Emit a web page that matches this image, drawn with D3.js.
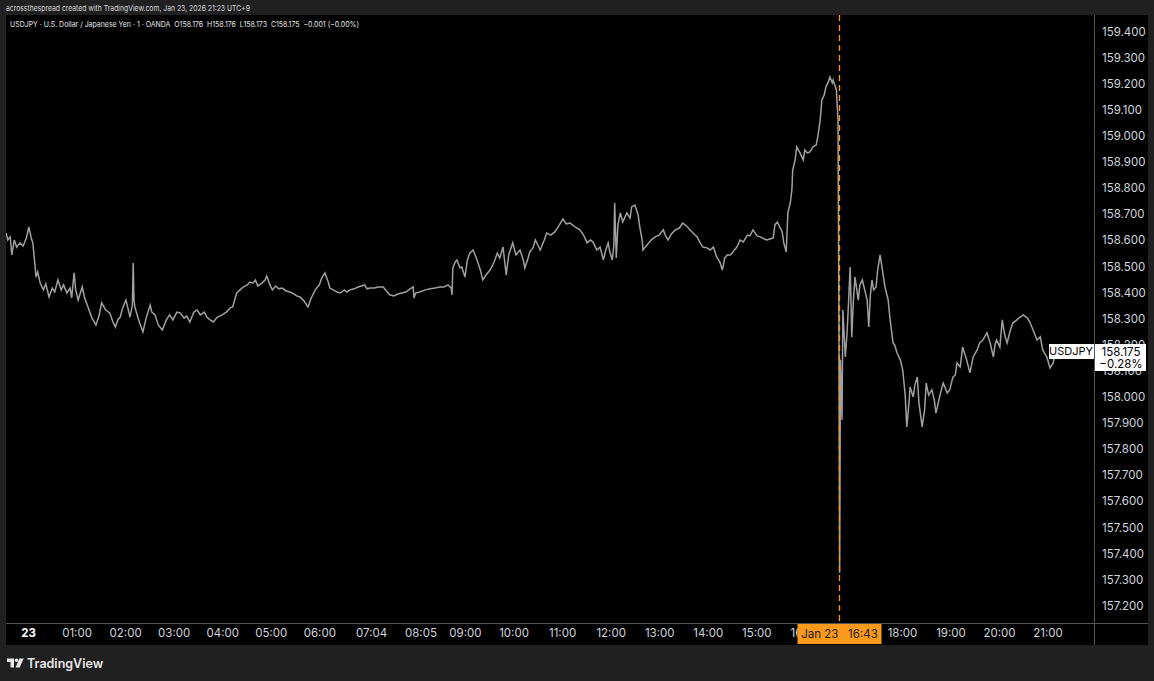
<!DOCTYPE html>
<html>
<head>
<meta charset="utf-8">
<script src="https://cdn.jsdelivr.net/npm/d3@7"></script>
<style>
  html, body { margin: 0; padding: 0; background: #202020; }
  svg { display: block; }
  .tick text { font-family: Inter, "Liberation Sans", sans-serif; }
</style>
</head>
<body>
<div id="chart"></div>
<script>
// USDJPY 1-min, Jan 23 2026 (minutes from 00:00, price)
var minutes = [
  -27,-25,-22,-20,-17,-14,-10,-6,-2,1,
  4,6,10,12,15,19,22,26,30,33,
  37,41,44,48,52,54,57,59,62,67,
  70,74,79,84,88,91,96,101,105,108,
  111,114,117,121,124,126,129,130,131,132,
  136,138,142,146,151,153,157,161,166,171,
  175,179,184,188,193,196,200,205,209,213,
  218,221,225,229,234,240,245,250,253,256,
  258,262,266,271,274,278,281,284,289,293,
  295,299,302,306,310,314,319,324,329,332,
  336,341,346,350,355,360,363,367,371,373,
  377,382,386,391,394,398,403,408,412,416,
  419,423,428,433,439,444,447,452,457,462,
  467,472,476,477,479,484,491,497,503,509,
  514,519,523,524,525,528,530,534,536,540,
  543,546,550,554,559,562,566,571,576,580,
  583,587,591,594,599,603,608,612,614,618,
  620,624,627,630,633,638,641,646,651,656,
  661,665,670,676,682,687,691,695,698,703,
  707,711,714,717,719,722,724,725,727,729,
  732,735,740,744,746,750,754,756,759,760,
  762,765,770,775,780,785,788,791,795,800,
  805,809,814,818,823,827,830,834,839,843,
  847,849,851,855,858,861,864,868,871,876,
  880,884,889,892,896,901,905,910,913,917,
  921,923,926,929,932,934,937,939,942,944,
  945,948,950,954,958,960,963,966,970,974,
  976,979,981,984,986,989,991,994,995,999,
  1001,1002,1003,1004,1006,1007,1010,1012,1013,1016,
  1018,1020,1022,1026,1028,1031,1034,1037,1039,1041,
  1043,1045,1048,1050,1053,1055,1059,1063,1065,1069,
  1071,1074,1078,1081,1084,1086,1089,1090,1094,1096,
  1099,1101,1105,1108,1110,1113,1117,1120,1122,1127,
  1131,1136,1139,1143,1146,1148,1152,1155,1158,1160,
  1164,1168,1173,1176,1180,1185,1189,1193,1195,1197,
  1201,1204,1207,1210,1214,1217,1222,1226,1230,1235,
  1238,1242,1247,1251,1254,1259,1263,1267,1269
];
var prices = [
  158.628,158.601,158.613,158.544,158.601,158.574,158.590,158.578,158.609,158.651,
  158.609,158.590,158.459,158.479,158.436,158.410,158.433,158.383,158.417,158.402,
  158.448,158.410,158.429,158.398,158.417,158.379,158.475,158.410,158.371,158.421,
  158.379,158.345,158.302,158.276,158.314,158.360,158.333,158.322,158.287,158.268,
  158.295,158.306,158.341,158.371,158.333,158.306,158.352,158.513,158.371,158.345,
  158.302,158.283,158.249,158.302,158.352,158.325,158.314,158.276,158.256,158.295,
  158.314,158.295,158.325,158.322,158.302,158.310,158.287,158.325,158.333,158.314,
  158.325,158.306,158.295,158.287,158.306,158.314,158.325,158.341,158.345,158.379,
  158.398,158.410,158.421,158.429,158.440,158.436,158.448,158.425,158.436,158.448,
  158.463,158.429,158.410,158.425,158.414,158.417,158.406,158.402,158.394,158.387,
  158.383,158.368,158.345,158.379,158.410,158.429,158.456,158.475,158.440,158.417,
  158.410,158.402,158.398,158.410,158.402,158.410,158.414,158.421,158.425,158.429,
  158.414,158.417,158.417,158.421,158.421,158.402,158.391,158.387,158.394,158.398,
  158.402,158.414,158.421,158.379,158.398,158.402,158.410,158.414,158.417,158.421,
  158.421,158.429,158.417,158.391,158.494,158.517,158.525,158.494,158.498,158.459,
  158.525,158.551,158.563,158.532,158.486,158.448,158.467,158.486,158.517,158.551,
  158.532,158.574,158.467,158.544,158.590,158.544,158.563,158.525,158.494,158.532,
  158.555,158.571,158.601,158.582,158.563,158.601,158.628,158.620,158.632,158.655,
  158.682,158.663,158.666,158.651,158.640,158.617,158.590,158.601,158.594,158.563,
  158.574,158.525,158.563,158.590,158.555,158.525,158.582,158.743,158.532,158.659,
  158.705,158.670,158.705,158.685,158.728,158.735,158.697,158.651,158.601,158.563,
  158.571,158.582,158.601,158.613,158.620,158.640,158.617,158.601,158.624,158.640,
  158.647,158.666,158.655,158.640,158.624,158.613,158.594,158.574,158.571,158.563,
  158.574,158.555,158.536,158.517,158.486,158.532,158.544,158.544,158.555,158.574,
  158.601,158.594,158.620,158.617,158.640,158.617,158.613,158.605,158.601,158.605,
  158.609,158.659,158.670,158.651,158.632,158.590,158.555,158.705,158.743,158.793,
  158.869,158.908,158.958,158.935,158.908,158.946,158.935,158.938,158.958,158.965,
  158.996,159.061,159.138,159.157,159.187,159.207,159.226,159.203,159.214,159.176,
  159.061,158.371,157.326,158.142,157.912,158.333,158.153,158.237,158.295,158.498,
  158.230,158.371,158.459,158.371,158.429,158.448,158.410,158.371,158.268,158.391,
  158.448,158.410,158.421,158.486,158.544,158.505,158.421,158.371,158.306,158.207,
  158.199,158.168,158.142,158.103,158.007,157.885,157.988,158.038,158.000,158.046,
  158.076,157.977,157.885,157.950,158.053,158.007,158.027,157.988,157.938,158.007,
  158.053,158.015,158.027,158.076,158.084,158.130,158.115,158.191,158.161,158.142,
  158.092,158.153,158.180,158.207,158.218,158.245,158.207,158.153,158.199,158.218,
  158.191,158.295,158.237,158.207,158.256,158.283,158.295,158.306,158.314,158.302,
  158.287,158.256,158.218,158.230,158.180,158.153,158.111,158.130,158.175
];
// 17:00 sits fully under the crosshair label in the original, so it is left out
var timeTicks = [0,60,120,180,240,300,360,424,485,540,600,660,720,780,840,900,960,1080,1140,1200,1260];
var timeLabels = ["23","01:00","02:00","03:00","04:00","05:00","06:00","07:04","08:05","09:00","10:00",
  "11:00","12:00","13:00","14:00","15:00","16:00","18:00","19:00","20:00","21:00"];
var priceTicks = [157.2,157.3,157.4,157.5,157.6,157.7,157.8,157.9,158.0,158.1,158.2,158.3,
  158.4,158.5,158.6,158.7,158.8,158.9,159.0,159.1,159.2,159.3,159.4];
var cursorMinute = 1003;   // 16:43
var lastPrice = 158.175;
var lastChange = "\u22120.28%";

(function() {
  var W = 1154, H = 681;
  var plot = { left: 6, right: 1094, top: 15, bottom: 623 };
  var axisRight = 1148, axisBottom = 645;
  var font = 'Inter, "Liberation Sans", sans-serif';
  var orange = "#fb9a1a";

  var svg = d3.select("#chart").append("svg")
    .attr("width", W)
    .attr("height", H);

  svg.append("rect").attr("width", W).attr("height", H).attr("fill", "#202020");
  svg.append("rect")
    .attr("x", plot.left).attr("y", plot.top)
    .attr("width", axisRight - plot.left).attr("height", axisBottom - plot.top)
    .attr("fill", "#000");

  var x = d3.scaleLinear().domain([0, 1260]).range([28, 1047.6]);
  var y = d3.scaleLinear().domain([157.2, 159.4]).range([605.7, 31.5]);

  var defs = svg.append("defs");
  defs.append("clipPath").attr("id", "plotclip")
    .append("rect")
    .attr("x", plot.left).attr("y", plot.top)
    .attr("width", plot.right - plot.left).attr("height", plot.bottom - plot.top);

  // price line
  var data = minutes.map(function(m, i) { return [m, prices[i]]; });
  var line = d3.line()
    .x(function(d) { return x(d[0]); })
    .y(function(d) { return y(d[1]); });
  svg.append("path")
    .datum(data)
    .attr("clip-path", "url(#plotclip)")
    .attr("d", line)
    .attr("fill", "none")
    .attr("stroke", "#a0a0a0")
    .attr("stroke-width", 1.5)
    .attr("stroke-linejoin", "miter");

  // separators
  svg.append("line")
    .attr("x1", plot.right + 0.5).attr("x2", plot.right + 0.5)
    .attr("y1", plot.top).attr("y2", axisBottom)
    .attr("stroke", "#555").attr("stroke-width", 1);
  svg.append("line")
    .attr("x1", plot.left).attr("x2", axisRight)
    .attr("y1", plot.bottom + 0.5).attr("y2", plot.bottom + 0.5)
    .attr("stroke", "#555").attr("stroke-width", 1);

  // price axis
  var yAxis = d3.axisRight(y)
    .tickValues(priceTicks)
    .tickFormat(d3.format(".3f"))
    .tickSize(0)
    .tickPadding(8);
  var gy = svg.append("g")
    .attr("transform", "translate(" + plot.right + ",0)")
    .call(yAxis);
  gy.select(".domain").remove();
  gy.selectAll("text")
    .attr("fill", "#d1d4dc")
    .style("font-size", "11.5px");

  // time axis
  var cx = Math.round(x(cursorMinute)) - 0.5;
  var boxLeft = cx - 42;
  // clip in the tick's own (translated) space so only the "1" of 16:00 shows
  defs.append("clipPath").attr("id", "timeclip")
    .append("rect")
    .attr("x", -60).attr("y", -5)
    .attr("width", boxLeft - x(960) + 60).attr("height", 30);
  var xAxis = d3.axisBottom(x)
    .tickValues(timeTicks)
    .tickFormat(function(d, i) { return timeLabels[i]; })
    .tickSize(0)
    .tickPadding(6);
  var gx = svg.append("g")
    .attr("transform", "translate(0," + plot.bottom + ")")
    .call(xAxis);
  gx.select(".domain").remove();
  gx.selectAll("text")
    .style("font-size", "11.5px")
    .style("font-weight", function(d, i) { return i === 0 ? "bold" : null; })
    .attr("fill", function(d, i) { return i === 0 ? "#fff" : "#d1d4dc"; });
  gx.selectAll(".tick")
    .filter(function(d) { return d === 960; })
    .select("text")
    .attr("clip-path", "url(#timeclip)");

  // crosshair
  svg.append("line")
    .attr("x1", cx).attr("x2", cx)
    .attr("y1", plot.top).attr("y2", plot.bottom)
    .attr("stroke", orange)
    .attr("stroke-width", 1.3)
    .attr("stroke-dasharray", "6,4");
  svg.append("rect")
    .attr("x", boxLeft).attr("y", plot.bottom + 1)
    .attr("width", 84).attr("height", 20)
    .attr("fill", orange);
  svg.append("text")
    .attr("x", cx).attr("y", plot.bottom + 15)
    .attr("text-anchor", "middle")
    .attr("fill", "#1a1a1a")
    .style("font-family", font)
    .style("font-size", "11.5px")
    .attr("xml:space", "preserve")
    .text("Jan 23   16:43");

  // last price labels
  var ly = Math.round(y(lastPrice));
  svg.append("rect")
    .attr("x", 1049).attr("y", ly - 7)
    .attr("width", plot.right - 1049).attr("height", 15)
    .attr("fill", "#fff");
  svg.append("text")
    .attr("x", 1071).attr("y", ly + 4)
    .attr("text-anchor", "middle")
    .attr("fill", "#000")
    .style("font-family", font)
    .style("font-size", "11px")
    .text("USDJPY");
  svg.append("rect")
    .attr("x", plot.right + 1).attr("y", ly - 7)
    .attr("width", 51).attr("height", 27)
    .attr("fill", "#fff");
  svg.append("text")
    .attr("x", 1121).attr("y", ly + 5)
    .attr("text-anchor", "middle")
    .attr("fill", "#000")
    .style("font-family", font)
    .style("font-size", "11.5px")
    .text(d3.format(".3f")(lastPrice));
  svg.append("text")
    .attr("x", 1121).attr("y", ly + 17)
    .attr("text-anchor", "middle")
    .attr("fill", "#000")
    .style("font-family", font)
    .style("font-size", "11.5px")
    .text(lastChange);

  // header texts
  svg.append("text")
    .attr("x", 6).attr("y", 11)
    .attr("fill", "#d8d8d8")
    .attr("textLength", 244)
    .attr("lengthAdjust", "spacingAndGlyphs")
    .style("font-family", font)
    .style("font-size", "7.8px")
    .text("acrossthespread created with TradingView.com, Jan 23, 2026 21:23 UTC+9");
  svg.append("text")
    .attr("x", 10).attr("y", 27)
    .attr("fill", "#e6e6e6")
    .attr("xml:space", "preserve")
    .attr("textLength", 349)
    .attr("lengthAdjust", "spacingAndGlyphs")
    .style("font-family", font)
    .style("font-size", "7.6px")
    .text("USDJPY \u00b7 U.S. Dollar / Japanese Yen \u00b7 1 \u00b7 OANDA  O158.176  H158.176  L158.173  C158.175  \u22120.001 (\u22120.00%)");

  // footer logo
  var logo = svg.append("g").attr("fill", "#e8e8e8");
  logo.append("path").attr("d", "M7,658.5 h7 v9 h-3.5 v-5.5 h-3.5 z");
  logo.append("circle").attr("cx", 16.5).attr("cy", 660.3).attr("r", 1.8);
  logo.append("path").attr("d", "M19.5,658.5 h4.2 l-4,9 h-4.2 z");
  svg.append("text")
    .attr("x", 27).attr("y", 668)
    .attr("fill", "#e8e8e8")
    .style("font-family", font)
    .style("font-size", "12.5px")
    .style("font-weight", "600")
    .text("TradingView");
})();
</script>
</body>
</html>
